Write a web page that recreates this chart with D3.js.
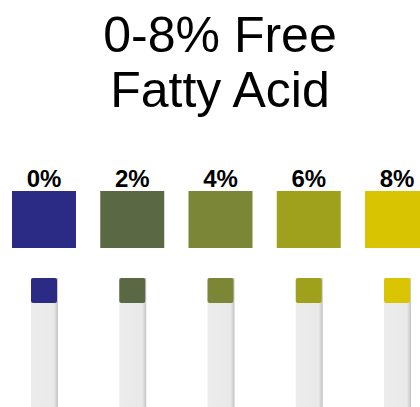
<!DOCTYPE html>
<html>
<head>
<meta charset="utf-8">
<script src="https://cdn.jsdelivr.net/npm/d3@7"></script>
<style>
  body { margin: 0; background: #fff; }
  svg { display: block; font-family: "Liberation Sans", Arial, sans-serif; }
</style>
</head>
<body>
<div id="chart"></div>
<script>
var width = 420,
    height = 407;

// data
var titleLines = ["0-8% Free", "Fatty Acid"];
var levels = ["0%", "2%", "4%", "6%", "8%"];
var colours = ["#2b2a84", "#5b6844", "#7c8637", "#9fa11d", "#d8c400"];

var svg = d3.select("#chart")
    .append("svg")
    .attr("width", width)
    .attr("height", height);

var x = d3.scalePoint()
    .domain(levels)
    .range([44, 397]);

var defs = svg.append("defs");
var grad = defs.append("linearGradient")
    .attr("id", "stripShade")
    .attr("x1", "0%").attr("x2", "100%");
grad.append("stop").attr("offset", "0%").attr("stop-color", "#ececec");
grad.append("stop").attr("offset", "85%").attr("stop-color", "#e9e9e9");
grad.append("stop").attr("offset", "100%").attr("stop-color", "#c4c4c4");

// title
svg.append("g")
    .selectAll("text")
    .data(titleLines)
    .enter()
    .append("text")
    .attr("x", 220)
    .attr("y", function (d, i) { return 52 + i * 55; })
    .attr("text-anchor", "middle")
    .style("font-size", "50px")
    .style("fill", "#000")
    .text(function (d) { return d; });

var cols = svg.append("g")
    .selectAll("g")
    .data(levels)
    .enter()
    .append("g")
    .attr("transform", function (d) { return "translate(" + x(d) + ",0)"; });

// labels
cols.append("text")
    .attr("y", 187)
    .attr("text-anchor", "middle")
    .style("font-size", "24px")
    .style("font-weight", "bold")
    .text(function (d) { return d; });

// colour squares
cols.append("rect")
    .attr("x", -32)
    .attr("y", 191)
    .attr("width", 64)
    .attr("height", 57)
    .style("fill", function (d, i) { return colours[i]; });

// test strips
cols.append("rect")
    .attr("x", -13)
    .attr("y", 278)
    .attr("width", 27)
    .attr("height", 140)
    .style("fill", "url(#stripShade)");

cols.append("rect")
    .attr("x", -13)
    .attr("y", 278)
    .attr("width", 26)
    .attr("height", 25)
    .attr("rx", 2)
    .style("fill", function (d, i) { return colours[i]; });
</script>
</body>
</html>
